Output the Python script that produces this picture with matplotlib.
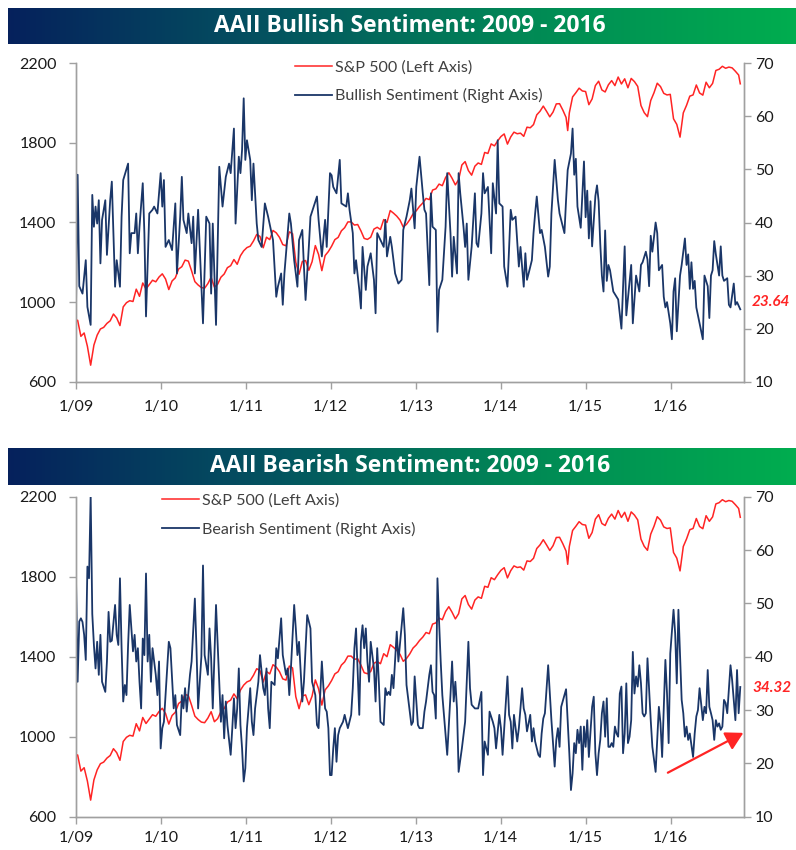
import numpy as np
import pandas as pd
import matplotlib
matplotlib.use("Agg")
import matplotlib.pyplot as plt
from matplotlib.colors import LinearSegmentedColormap
from matplotlib import font_manager
from matplotlib.transforms import blended_transform_factory

# ---------------- data (weeks counted from Thu 2009-01-01) ----------------
start_date = "2009-01-01"
tick_dates = ["2009-01-01", "2010-01-01", "2011-01-01", "2012-01-01",
              "2013-01-01", "2014-01-01", "2015-01-01", "2016-01-01"]
tick_labels = ["1/09", "1/10", "1/11", "1/12", "1/13", "1/14", "1/15", "1/16"]
x_end = "2016-11-12"

bull_weeks = [0, 1, 2, 4, 6, 7, 9, 10, 11, 12, 13, 14, 15, 16, 18, 19, 21, 22, 23, 24, 25, 27, 28, 29, 32, 33, 34, 36,
              37, 38, 39, 41, 42, 43, 45, 47, 48, 50, 52, 53, 54, 55, 57, 59, 61, 62, 64, 65, 66, 68, 69, 71, 72, 73,
              75, 78, 80, 82, 83, 84, 86, 88, 90, 92, 94, 95, 97, 98, 100, 101, 102, 103, 104, 105, 107, 108, 109,
              111, 112, 114, 116, 118, 121, 123, 124, 126, 127, 128, 130, 131, 132, 134, 136, 137, 139, 140, 141,
              143, 144, 146, 148, 149, 151, 153, 154, 156, 157, 158, 160, 162, 163, 166, 167, 168, 170, 171, 172,
              174, 175, 176, 178, 179, 181, 183, 184, 185, 187, 189, 190, 191, 193, 194, 196, 198, 200, 201, 203,
              205, 206, 208, 209, 211, 213, 214, 215, 217, 218, 219, 221, 222, 223, 225, 227, 228, 230, 231, 232,
              234, 235, 236, 238, 239, 240, 241, 243, 245, 246, 247, 249, 250, 251, 253, 255, 256, 258, 259, 260,
              262, 263, 265, 267, 268, 270, 272, 273, 275, 276, 277, 278, 280, 281, 282, 283, 285, 286, 288, 290,
              291, 292, 294, 296, 297, 299, 300, 301, 302, 304, 305, 306, 307, 308, 309, 310, 312, 313, 314, 315,
              316, 317, 319, 320, 321, 322, 323, 324, 325, 326, 327, 328, 330, 333, 335, 337, 338, 341, 342, 344,
              346, 347, 348, 350, 351, 352, 353, 354, 356, 357, 358, 360, 361, 362, 363, 365, 366, 367, 368, 369,
              371, 372, 374, 375, 376, 377, 378, 379, 380, 381, 383, 385, 386, 388, 389, 390, 391, 392, 393, 395,
              396, 397, 398, 400, 401, 402, 404, 405, 406, 408]
bull_values = [24.1, 49.0, 28.0, 26.6, 32.9, 24.1, 20.7, 45.2, 39.2, 43.0, 39.8, 44.2, 32.3, 40.5, 44.2, 33.9, 44.2,
               47.7, 38.0, 27.9, 32.9, 27.9, 41.1, 48.0, 51.1, 34.2, 38.0, 38.0, 41.7, 34.2, 39.2, 47.4, 38.0, 22.3,
               41.7, 42.4, 43.0, 41.7, 49.3, 43.0, 48.0, 35.4, 36.7, 34.8, 43.6, 30.4, 41.1, 48.6, 40.5, 38.0, 41.7,
               36.1, 41.1, 30.4, 42.4, 21.0, 41.1, 39.8, 26.6, 39.8, 20.7, 50.5, 43.0, 48.6, 51.1, 49.3, 57.7, 39.8,
               52.4, 49.3, 53.7, 63.4, 51.8, 55.5, 51.8, 44.2, 51.1, 39.8, 36.7, 35.4, 43.6, 41.1, 36.7, 26.0, 27.9,
               30.4, 24.5, 30.4, 38.0, 41.7, 39.8, 32.9, 27.9, 36.7, 38.6, 31.7, 25.4, 35.4, 41.1, 43.0, 44.9, 40.5,
               33.6, 40.5, 35.4, 49.3, 48.9, 46.7, 45.5, 51.8, 43.6, 43.0, 45.5, 42.4, 38.0, 30.4, 32.9, 27.3, 23.8,
               35.4, 27.3, 31.7, 34.2, 29.2, 22.9, 38.0, 36.7, 35.4, 40.5, 33.6, 37.3, 35.4, 30.4, 28.5, 29.2, 38.6,
               41.1, 44.2, 46.4, 38.9, 46.7, 52.4, 45.5, 42.4, 41.7, 28.2, 45.5, 39.2, 38.6, 19.4, 27.3, 29.2, 39.2,
               49.3, 38.0, 29.8, 37.3, 30.4, 49.3, 45.5, 39.2, 35.4, 39.8, 29.2, 35.4, 45.5, 36.1, 35.4, 41.7, 49.3,
               45.5, 46.7, 34.2, 47.4, 41.7, 55.5, 43.6, 43.0, 31.7, 27.9, 42.4, 40.5, 41.1, 31.7, 35.4, 27.9, 34.2,
               29.2, 30.4, 32.9, 38.0, 41.7, 44.9, 38.0, 38.6, 35.4, 29.8, 31.7, 41.7, 51.8, 44.2, 41.7, 39.2, 38.0,
               44.2, 49.9, 53.0, 57.7, 49.0, 52.0, 43.0, 41.0, 39.0, 51.5, 41.0, 46.0, 37.0, 44.0, 35.5, 45.0, 47.0,
               44.0, 36.0, 30.0, 27.0, 38.5, 29.0, 32.0, 31.0, 27.0, 25.5, 20.0, 35.5, 22.5, 32.0, 21.0, 30.0, 27.0,
               32.0, 32.5, 34.5, 33.0, 28.0, 37.5, 34.5, 40.0, 38.0, 31.0, 32.0, 26.0, 24.0, 25.0, 21.0, 18.0, 27.0,
               29.5, 19.5, 30.0, 32.0, 37.0, 32.0, 34.0, 27.5, 32.5, 27.5, 29.0, 24.0, 21.0, 18.0, 30.0, 28.0, 22.0,
               30.0, 31.0, 36.5, 34.0, 30.0, 35.5, 30.0, 29.0, 29.5, 24.5, 24.0, 28.5, 24.5, 25.0, 23.64]

bear_weeks = [0, 1, 2, 3, 4, 5, 6, 7, 8, 9, 10, 11, 12, 13, 14, 15, 16, 18, 19, 20, 21, 22, 24, 25, 26, 27, 28, 29,
              30, 31, 32, 33, 35, 36, 37, 38, 39, 40, 41, 42, 43, 44, 45, 46, 47, 48, 49, 50, 51, 52, 53, 54, 55,
              57, 58, 60, 61, 62, 64, 65, 66, 67, 68, 70, 71, 73, 74, 75, 77, 78, 79, 81, 82, 83, 84, 86, 88, 89,
              90, 91, 92, 93, 95, 96, 97, 98, 99, 100, 101, 102, 103, 104, 105, 106, 107, 108, 109, 110, 111, 112,
              113, 115, 116, 117, 118, 119, 120, 122, 123, 124, 126, 127, 129, 130, 131, 132, 134, 135, 136, 137,
              139, 140, 142, 143, 144, 145, 147, 148, 149, 151, 152, 153, 154, 155, 156, 157, 158, 159, 160, 161,
              162, 164, 165, 166, 167, 169, 170, 171, 172, 174, 175, 176, 177, 178, 179, 180, 181, 183, 184, 185,
              186, 187, 189, 190, 191, 192, 193, 194, 195, 197, 198, 201, 202, 203, 206, 207, 208, 210, 211, 213,
              214, 215, 217, 218, 219, 220, 221, 222, 223, 224, 225, 226, 228, 230, 231, 232, 233, 234, 235, 237,
              238, 239, 241, 242, 243, 245, 246, 247, 249, 250, 251, 253, 254, 256, 257, 258, 260, 261, 262, 263,
              264, 265, 266, 267, 268, 269, 271, 272, 274, 275, 276, 277, 279, 280, 281, 282, 284, 285, 286, 287,
              288, 290, 292, 294, 295, 296, 297, 298, 300, 301, 303, 304, 305, 306, 307, 308, 309, 310, 311, 312,
              313, 314, 315, 317, 318, 319, 320, 321, 322, 323, 324, 325, 326, 327, 328, 329, 330, 331, 332, 333,
              334, 335, 336, 337, 338, 339, 340, 341, 342, 343, 344, 345, 346, 347, 348, 349, 350, 351, 353, 354,
              356, 357, 358, 359, 360, 362, 363, 364, 365, 367, 368, 369, 370, 372, 373, 374, 375, 376, 377, 379,
              380, 381, 382, 383, 385, 386, 387, 388, 389, 390, 391, 392, 393, 394, 395, 396, 397, 398, 399, 400,
              402, 403, 405, 406, 407, 408]
bear_values = [54.7, 35.3, 46.6, 47.2, 46.5, 44.1, 39.4, 56.9, 54.7, 70.3, 48.0, 42.2, 37.8, 42.8, 36.6, 44.1, 35.3,
               33.4, 39.1, 48.4, 42.8, 43.0, 49.7, 44.1, 42.2, 54.7, 41.6, 31.6, 34.7, 32.8, 42.2, 49.7, 41.0, 44.1,
               39.1, 41.6, 35.3, 30.3, 43.4, 40.3, 55.6, 39.1, 44.1, 35.3, 41.6, 39.1, 36.6, 32.8, 39.1, 22.8, 26.6,
               27.8, 32.8, 42.8, 41.6, 30.3, 32.8, 27.2, 25.3, 32.8, 30.3, 34.1, 29.7, 36.6, 39.1, 50.9, 41.6, 30.3,
               40.0, 57.1, 40.3, 36.6, 45.3, 39.7, 30.3, 49.7, 35.3, 27.8, 32.8, 24.7, 31.6, 27.2, 21.6, 26.6, 32.2,
               26.6, 30.3, 37.8, 27.2, 22.8, 16.6, 19.1, 26.6, 30.3, 34.1, 27.8, 25.3, 30.3, 32.8, 35.3, 40.3, 34.1,
               32.8, 37.8, 30.3, 26.6, 35.3, 34.7, 41.6, 39.7, 47.2, 40.3, 36.6, 37.8, 32.8, 37.8, 49.7, 45.3, 40.3,
               42.8, 31.6, 35.3, 47.8, 46.6, 45.3, 35.3, 32.8, 27.2, 26.6, 39.1, 34.1, 30.3, 29.7, 26.6, 17.8, 17.8,
               22.8, 26.6, 20.3, 25.3, 26.6, 27.8, 29.1, 27.8, 26.6, 29.1, 34.1, 41.6, 45.3, 29.1, 42.8, 45.9, 41.6,
               45.3, 39.1, 35.3, 42.8, 37.8, 31.6, 41.6, 35.3, 27.8, 27.2, 34.1, 32.8, 33.4, 32.8, 36.6, 34.1, 44.7,
               39.1, 49.1, 44.1, 34.7, 27.2, 27.8, 36.3, 27.2, 26.6, 26.6, 29.7, 31.6, 36.6, 38.4, 33.4, 32.8, 28.4,
               54.7, 46.6, 39.1, 32.8, 29.1, 21.6, 32.8, 39.1, 31.6, 35.3, 30.3, 18.4, 22.8, 25.3, 27.8, 42.8, 34.1,
               31.0, 30.3, 30.3, 30.3, 33.4, 17.8, 24.1, 21.6, 29.7, 27.8, 26.6, 22.8, 29.1, 26.6, 21.6, 26.6, 31.6,
               36.3, 29.1, 27.8, 22.8, 29.1, 24.1, 26.6, 34.1, 30.3, 29.1, 26.0, 29.1, 24.1, 26.6, 24.1, 21.6, 21.2,
               25.6, 28.4, 29.4, 38.4, 28.1, 19.4, 24.4, 26.6, 23.1, 30.6, 32.8, 33.9, 21.9, 15.0, 18.1, 23.8, 21.9,
               26.3, 23.8, 26.9, 18.8, 26.9, 23.1, 28.1, 21.2, 30.6, 32.5, 21.9, 17.8, 21.9, 24.4, 29.4, 31.6, 25.0,
               32.2, 23.1, 23.1, 23.8, 23.1, 26.9, 25.6, 25.0, 33.1, 34.4, 21.9, 25.6, 35.0, 23.8, 25.0, 28.1, 40.9,
               33.1, 36.3, 34.4, 38.4, 35.0, 29.4, 28.8, 29.4, 39.7, 28.1, 23.1, 18.4, 24.4, 30.6, 27.5, 21.2, 39.4,
               33.1, 23.8, 40.6, 48.8, 44.4, 35.0, 48.8, 31.9, 29.4, 25.0, 26.9, 24.4, 25.6, 21.2, 25.6, 28.8, 30.0,
               34.1, 28.1, 30.6, 29.4, 37.5, 30.6, 29.4, 28.1, 24.4, 28.1, 26.9, 27.5, 26.3, 26.9, 31.9, 31.3, 29.4,
               38.4, 35.6, 28.1, 37.5, 29.4, 34.32]

spx_weeks = [0, 1, 3, 5, 7, 9, 11, 13, 15, 17, 19, 21, 23, 25, 27, 29, 31, 33, 35, 37, 39, 41, 43, 45, 47, 49, 51,
             53, 55, 57, 59, 61, 63, 65, 67, 69, 71, 73, 75, 77, 79, 81, 83, 85, 87, 89, 91, 93, 95, 97, 99, 101,
             103, 105, 107, 109, 111, 113, 115, 117, 119, 121, 123, 125, 127, 129, 131, 133, 135, 137, 139, 141,
             143, 145, 147, 149, 151, 153, 155, 157, 159, 161, 163, 165, 167, 169, 171, 173, 175, 177, 179, 181,
             183, 185, 187, 189, 191, 193, 195, 197, 199, 201, 203, 205, 207, 209, 211, 213, 215, 217, 219, 221,
             223, 225, 227, 229, 231, 233, 235, 237, 239, 241, 243, 245, 247, 249, 251, 253, 255, 257, 259, 261,
             263, 265, 267, 269, 271, 273, 275, 277, 279, 281, 283, 285, 287, 289, 291, 293, 295, 297, 299, 301,
             302, 303, 305, 307, 309, 311, 313, 315, 317, 319, 321, 323, 325, 327, 329, 331, 333, 335, 337, 339,
             341, 343, 345, 347, 349, 351, 353, 355, 357, 359, 361, 363, 365, 367, 369, 371, 373, 375, 377, 379,
             381, 383, 385, 387, 389, 391, 393, 395, 397, 399, 401, 403, 405, 407, 408]
spx_values = [903, 909, 828, 845, 778, 683, 784, 834, 865, 873, 893, 906, 940, 920, 882, 976, 997, 1007, 1003, 1065,
              1029, 1096, 1066, 1088, 1110, 1102, 1126, 1142, 1116, 1063, 1106, 1122, 1166, 1178, 1211, 1206, 1157,
              1103, 1086, 1073, 1070, 1093, 1125, 1075, 1090, 1125, 1141, 1173, 1183, 1214, 1190, 1233, 1258, 1274,
              1281, 1307, 1340, 1330, 1273, 1326, 1314, 1360, 1348, 1325, 1289, 1283, 1353, 1344, 1200, 1140, 1204,
              1209, 1160, 1203, 1284, 1239, 1158, 1234, 1254, 1281, 1314, 1325, 1358, 1374, 1403, 1403, 1387, 1390,
              1358, 1320, 1315, 1326, 1367, 1376, 1365, 1415, 1400, 1460, 1447, 1432, 1412, 1377, 1391, 1414, 1443,
              1459, 1481, 1498, 1521, 1515, 1563, 1569, 1593, 1585, 1626, 1650, 1622, 1589, 1615, 1689, 1706, 1661,
              1638, 1683, 1699, 1692, 1752, 1747, 1795, 1785, 1810, 1832, 1845, 1794, 1830, 1854, 1846, 1849, 1833,
              1879, 1876, 1892, 1941, 1959, 1985, 1959, 1931, 1955, 1996, 1997, 1965, 1928, 1862, 1951, 2031, 2052,
              2075, 2061, 2058, 1992, 2021, 2088, 2110, 2066, 2056, 2092, 2113, 2088, 2131, 2096, 2122, 2077, 2124,
              2108, 2084, 1988, 1952, 1932, 2013, 2052, 2100, 2083, 2049, 2041, 2044, 1921, 1893, 1829, 1951, 1989,
              2035, 2041, 2091, 2051, 2040, 2105, 2077, 2099, 2164, 2170, 2185, 2175, 2181, 2177, 2160, 2141, 2097]

# ---------------- style ----------------
def pick_font(candidates):
    for fam in candidates:
        try:
            font_manager.findfont(font_manager.FontProperties(family=fam), fallback_to_default=False)
            return fam
        except Exception:
            continue
    return "DejaVu Sans"

BODY = pick_font(["Lato", "Open Sans", "DejaVu Sans"])
TITLE = pick_font(["Liberation Sans Narrow", "Open Sans", "Lato", "DejaVu Sans"])
plt.rcParams["font.family"] = [BODY, "DejaVu Sans"]

RED = "#ff2424"
BLUE = "#1a3668"
SPINE = "#a0a0a0"
TXT = "#404040"

W, H = 796, 850
fig = plt.figure(figsize=(W / 100, H / 100), dpi=100)
fig.patch.set_facecolor("white")

t0 = pd.Timestamp(start_date)


def to_dates(weeks):
    return t0 + pd.to_timedelta(np.asarray(weeks) * 7, unit="D")


cmap = LinearSegmentedColormap.from_list("banner", ["#06215c", "#045360", "#018a55", "#00ad4f"])


def banner(top_px, bottom_px, title):
    bax = fig.add_axes([8 / W, 1 - bottom_px / H, 1 - 8 / W, (bottom_px - top_px) / H])
    grad = np.linspace(0, 1, 256).reshape(1, -1)
    bax.imshow(grad, aspect="auto", cmap=cmap, extent=[0, 1, 0, 1])
    bax.set_axis_off()
    bax.text(0.51, 0.5, title, color="white", fontsize=16.5, fontweight="bold",
             family=[TITLE, "DejaVu Sans"], ha="center", va="center", transform=bax.transAxes)


def panel(top_px, bottom_px, sent_weeks, sent_values, sent_label, label_offset, legend_x, xpad, arrow):
    ax = fig.add_axes([76 / W, 1 - bottom_px / H, (744 - 76) / W, (bottom_px - top_px) / H])
    ax2 = ax.twinx()
    ax.plot(to_dates(spx_weeks), spx_values, color=RED, lw=1.1, label="S&P 500 (Left Axis)", zorder=3)
    ax2.plot(to_dates(sent_weeks), sent_values, color=BLUE, lw=1.3, label=sent_label, zorder=2)
    ax.set_ylim(600, 2200)
    ax.set_yticks([600, 1000, 1400, 1800, 2200])
    ax2.set_ylim(10, 70)
    ax2.set_yticks([10, 20, 30, 40, 50, 60, 70])
    ax.set_xlim(t0, pd.Timestamp(x_end))
    ax.set_xticks(pd.to_datetime(tick_dates))
    ax.set_xticklabels(tick_labels)
    for a in (ax, ax2):
        a.set_facecolor("none")
        a.spines["top"].set_visible(False)
        for s in ("left", "right", "bottom"):
            a.spines[s].set_color(SPINE)
            a.spines[s].set_linewidth(1.0)
        a.tick_params(colors=SPINE, labelcolor="#1a1a1a", labelsize=11.5, length=5, width=1.0, direction="out")
    ax.tick_params(axis="y", pad=9)
    ax.tick_params(axis="x", pad=xpad)
    ax2.tick_params(axis="y", pad=3)
    h1, l1 = ax.get_legend_handles_labels()
    h2, l2 = ax2.get_legend_handles_labels()
    leg = ax2.legend(h1 + h2, l1 + l2, loc="upper left", bbox_to_anchor=(legend_x, 1.01), frameon=False,
                     fontsize=11.6, handlelength=2.3, handletextpad=0.15, labelspacing=0.85,
                     borderpad=0, borderaxespad=0)
    for t in leg.get_texts():
        t.set_color(TXT)
    trans = blended_transform_factory(ax2.transAxes, ax2.transData)
    ax2.text(1.012, sent_values[-1] + label_offset, f"{sent_values[-1]:.2f}", transform=trans,
             color=RED, fontsize=11, fontweight="bold", fontstyle="italic", ha="left", va="center",
             clip_on=False)
    if arrow:
        ax2.annotate("", xy=(0.999, 0.262), xytext=(0.886, 0.1375), xycoords="axes fraction",
                     textcoords="axes fraction",
                     arrowprops=dict(arrowstyle="-|>,head_length=0.75,head_width=0.42", color=RED, lw=1.6,
                                     shrinkA=0, shrinkB=0, mutation_scale=14))
    return ax, ax2


banner(8, 44, "AAII Bullish Sentiment: 2009 - 2016")
panel(63.3, 381.7, bull_weeks, bull_values, "Bullish Sentiment (Right Axis)", 1.4, 0.328, 8, False)
banner(448, 485, "AAII Bearish Sentiment: 2009 - 2016")
panel(496.7, 816.7, bear_weeks, bear_values, "Bearish Sentiment (Right Axis)", -0.2, 0.129, 5, True)

fig.savefig("out.png", dpi=100, facecolor="white")
